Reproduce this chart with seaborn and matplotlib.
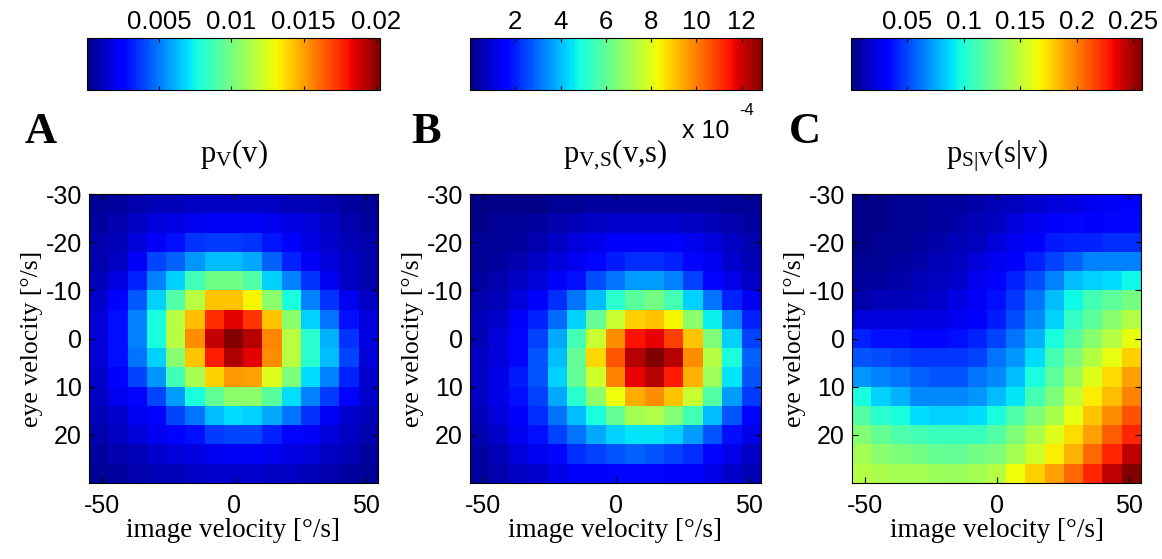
import matplotlib
matplotlib.use("Agg")
import matplotlib.pyplot as plt
import numpy as np
import pandas as pd
import seaborn as sns

# bin centres (deg/s)
image_vel = [-51.3, -44.0, -36.7, -29.3, -22.0, -14.7, -7.3, 0.0,
             7.3, 14.7, 22.0, 29.3, 36.7, 44.0, 51.3]
eye_vel = [-28, -24, -20, -16, -12, -8, -4, 0, 4, 8, 12, 16, 20, 24, 28]

# A: p_V(v), in units of 1e-4
pv_e4 = [
    [4, 6, 8, 10, 10, 12, 12, 12, 12, 12, 10, 10, 8, 6, 4],
    [6, 8, 12, 16, 18, 20, 22, 22, 22, 20, 18, 16, 12, 8, 6],
    [8, 10, 16, 22, 28, 35, 37, 37, 35, 30, 24, 18, 14, 10, 8],
    [8, 12, 22, 39, 45, 55, 63, 63, 59, 45, 32, 22, 16, 12, 8],
    [10, 18, 32, 51, 67, 87, 99, 99, 91, 67, 51, 35, 20, 12, 8],
    [14, 24, 43, 67, 91, 116, 142, 142, 132, 106, 77, 51, 35, 20, 12],
    [16, 28, 51, 77, 116, 144, 175, 185, 173, 142, 106, 67, 49, 28, 16],
    [16, 28, 51, 77, 116, 154, 191, 203, 193, 156, 116, 81, 61, 35, 18],
    [16, 28, 49, 67, 104, 142, 179, 195, 185, 154, 116, 81, 63, 39, 16],
    [14, 24, 39, 55, 87, 112, 140, 152, 150, 126, 102, 69, 51, 32, 14],
    [12, 20, 26, 39, 57, 77, 95, 106, 106, 93, 69, 51, 37, 24, 14],
    [10, 14, 20, 26, 39, 49, 63, 69, 67, 59, 49, 35, 22, 14, 10],
    [8, 12, 16, 20, 24, 28, 37, 39, 39, 32, 26, 22, 16, 12, 8],
    [6, 8, 10, 14, 16, 18, 20, 22, 22, 20, 18, 16, 12, 10, 6],
    [4, 6, 8, 10, 10, 12, 14, 14, 14, 12, 12, 10, 8, 6, 4],
]

# B: p_V,S(v,s), in units of 1e-4
pvs_e4 = [
    [0.13, 0.13, 0.13, 0.13, 0.26, 0.26, 0.39, 0.39, 0.39, 0.39, 0.39, 0.39, 0.39, 0.26, 0.26],
    [0.13, 0.26, 0.26, 0.39, 0.52, 0.65, 0.77, 0.90, 0.90, 0.90, 0.90, 0.77, 0.65, 0.52, 0.39],
    [0.26, 0.26, 0.39, 0.52, 0.77, 1.03, 1.16, 1.42, 1.55, 1.55, 1.55, 1.29, 1.03, 0.77, 0.52],
    [0.26, 0.39, 0.52, 0.77, 1.03, 1.29, 1.68, 1.94, 2.19, 2.19, 2.06, 1.68, 1.29, 0.90, 0.65],
    [0.39, 0.52, 0.77, 1.03, 1.42, 1.81, 2.58, 3.10, 3.61, 3.61, 3.23, 2.45, 1.68, 1.16, 0.77],
    [0.52, 0.65, 1.03, 1.55, 2.19, 3.10, 4.00, 5.16, 5.93, 6.32, 5.55, 4.26, 3.10, 2.06, 1.29],
    [0.65, 0.90, 1.42, 2.06, 2.97, 4.26, 6.06, 7.61, 8.90, 9.03, 8.39, 6.71, 4.64, 3.23, 2.06],
    [0.65, 1.03, 1.68, 2.45, 3.74, 5.55, 7.61, 9.80, 11.48, 11.74, 10.84, 9.03, 6.45, 4.26, 2.45],
    [0.77, 1.03, 1.68, 2.71, 4.00, 6.06, 8.77, 10.58, 12.26, 12.90, 12.26, 9.80, 7.35, 4.90, 2.84],
    [0.77, 1.16, 1.94, 2.71, 4.26, 6.06, 7.74, 9.93, 11.74, 12.26, 11.35, 9.29, 6.97, 4.52, 2.71],
    [0.77, 1.16, 1.81, 2.45, 3.74, 5.16, 6.71, 8.26, 9.42, 9.80, 9.03, 7.61, 5.81, 3.61, 2.32],
    [0.65, 1.03, 1.55, 2.19, 3.10, 4.00, 4.90, 6.06, 7.10, 7.22, 6.58, 5.55, 4.00, 2.71, 1.68],
    [0.52, 0.90, 1.29, 1.81, 2.45, 3.10, 3.74, 4.26, 4.52, 4.52, 4.26, 3.61, 2.71, 1.81, 1.16],
    [0.39, 0.65, 1.03, 1.29, 1.68, 2.19, 2.45, 2.71, 2.84, 2.71, 2.45, 2.19, 1.68, 1.16, 0.77],
    [0.39, 0.52, 0.77, 0.90, 1.16, 1.42, 1.55, 1.68, 1.68, 1.68, 1.55, 1.42, 1.16, 0.90, 0.65],
]

# C: p_S|V(s|v)
psv = [
    [0.003, 0.003, 0.005, 0.005, 0.008, 0.008, 0.010, 0.013, 0.015, 0.018, 0.021, 0.023, 0.026, 0.028, 0.031],
    [0.003, 0.003, 0.005, 0.005, 0.008, 0.010, 0.013, 0.015, 0.021, 0.026, 0.031, 0.034, 0.031, 0.034, 0.034],
    [0.003, 0.005, 0.005, 0.008, 0.010, 0.013, 0.015, 0.021, 0.026, 0.031, 0.039, 0.041, 0.041, 0.044, 0.044],
    [0.005, 0.005, 0.008, 0.010, 0.013, 0.015, 0.021, 0.026, 0.031, 0.041, 0.049, 0.057, 0.065, 0.065, 0.065],
    [0.008, 0.008, 0.010, 0.013, 0.015, 0.018, 0.026, 0.031, 0.041, 0.052, 0.065, 0.080, 0.085, 0.088, 0.095],
    [0.010, 0.013, 0.013, 0.015, 0.018, 0.023, 0.028, 0.036, 0.046, 0.062, 0.080, 0.095, 0.111, 0.119, 0.126],
    [0.021, 0.021, 0.021, 0.023, 0.023, 0.026, 0.031, 0.039, 0.052, 0.067, 0.085, 0.106, 0.119, 0.134, 0.147],
    [0.041, 0.036, 0.036, 0.034, 0.034, 0.036, 0.041, 0.049, 0.062, 0.077, 0.098, 0.116, 0.134, 0.147, 0.163],
    [0.054, 0.052, 0.049, 0.046, 0.046, 0.046, 0.049, 0.062, 0.070, 0.088, 0.111, 0.129, 0.147, 0.163, 0.178],
    [0.070, 0.065, 0.062, 0.057, 0.054, 0.054, 0.062, 0.067, 0.080, 0.098, 0.119, 0.139, 0.160, 0.175, 0.191],
    [0.098, 0.085, 0.077, 0.067, 0.067, 0.067, 0.070, 0.080, 0.090, 0.111, 0.129, 0.152, 0.170, 0.183, 0.199],
    [0.116, 0.103, 0.098, 0.088, 0.085, 0.085, 0.088, 0.098, 0.114, 0.129, 0.144, 0.163, 0.181, 0.196, 0.212],
    [0.132, 0.121, 0.114, 0.111, 0.108, 0.108, 0.108, 0.116, 0.129, 0.144, 0.160, 0.175, 0.191, 0.209, 0.224],
    [0.142, 0.134, 0.129, 0.126, 0.121, 0.121, 0.126, 0.129, 0.142, 0.155, 0.170, 0.186, 0.206, 0.224, 0.243],
    [0.147, 0.144, 0.142, 0.142, 0.139, 0.139, 0.142, 0.147, 0.165, 0.178, 0.191, 0.206, 0.224, 0.243, 0.258],
]

cbar_ticks_a = [0.005, 0.01, 0.015, 0.02]
cbar_labels_a = ["0.005", "0.01", "0.015", "0.02"]
cbar_ticks_b = [2, 4, 6, 8, 10, 12]
cbar_labels_b = ["2", "4", "6", "8", "10", "12"]
cbar_ticks_c = [0.05, 0.1, 0.15, 0.2, 0.25]
cbar_labels_c = ["0.05", "0.1", "0.15", "0.2", "0.25"]
x_ticks = [-50, 0, 50]
y_ticks = [-30, -20, -10, 0, 10, 20]

plt.rcParams["font.family"] = ["Liberation Sans", "DejaVu Sans"]
plt.rcParams["mathtext.fontset"] = "custom"
plt.rcParams["mathtext.rm"] = "Liberation Serif"
plt.rcParams["mathtext.it"] = "Liberation Serif:italic"

W, H = 1162, 559
fig = plt.figure(figsize=(W / 100, H / 100), dpi=100)


def frac(x0, y0, x1, y1):
    return [x0 / W, 1 - y1 / H, (x1 - x0) / W, (y1 - y0) / H]


panels = [
    dict(data=np.array(pv_e4) / 1e4, vmax=0.0203, ax=(89, 194, 378, 483), cax=(87, 38, 380, 90),
         ticks=cbar_ticks_a, labels=cbar_labels_a, title=r"$\mathrm{p_{V}(v)}$", letter="A", lx=25),
    dict(data=np.array(pvs_e4), vmax=12.9, ax=(470, 194, 761, 483), cax=(470, 38, 762, 90),
         ticks=cbar_ticks_b, labels=cbar_labels_b, title=r"$\mathrm{p_{V{,}S}(v{,}s)}$", letter="B", lx=411),
    dict(data=np.array(psv), vmax=0.258, ax=(852, 194, 1141, 483), cax=(851, 38, 1142, 90),
         ticks=cbar_ticks_c, labels=cbar_labels_c, title=r"$\mathrm{p_{S|V}(s|v)}$", letter="C", lx=789),
]

xx = np.arange(len(image_vel)) + 0.5
yy = np.arange(len(eye_vel)) + 0.5
dx = (image_vel[1] - image_vel[0])
dy = (eye_vel[1] - eye_vel[0])

for p in panels:
    ax = fig.add_axes(frac(*p["ax"]))
    cax = fig.add_axes(frac(*p["cax"]))
    df = pd.DataFrame(p["data"], index=eye_vel, columns=image_vel)
    sns.heatmap(df, ax=ax, cbar_ax=cax, cmap="jet", vmin=0, vmax=p["vmax"],
                cbar_kws={"orientation": "horizontal"},
                xticklabels=False, yticklabels=False)
    # ticks in data units
    ax.set_xticks(xx[0] + (np.array(x_ticks) - image_vel[0]) / dx)
    ax.set_xticklabels([str(t) for t in x_ticks])
    ax.set_yticks(yy[0] + (np.array(y_ticks) - eye_vel[0]) / dy)
    ax.set_yticklabels([str(t) for t in y_ticks], rotation=0)
    ax.tick_params(direction="in", length=4, width=0.8, labelsize=18,
                   top=True, right=True, bottom=True, left=True, colors="black")
    ax.tick_params(axis="x", pad=8)
    ax.tick_params(axis="y", pad=5)
    for s in ax.spines.values():
        s.set_visible(True)
        s.set_linewidth(0.8)
    ax.set_xlabel("image velocity [°/s]", family="Liberation Serif", fontsize=19.5, labelpad=0)
    ax.set_ylabel("eye velocity [°/s]", family="Liberation Serif", fontsize=18.5, labelpad=2)

    cx = (p["ax"][0] + p["ax"][2]) / 2
    fig.text(cx / W, 1 - 162 / H, p["title"], fontsize=22, ha="center", va="baseline")

    cbar = ax.collections[0].colorbar
    cbar.outline.set_linewidth(0.8)
    cbar.outline.set_edgecolor("black")
    cbar.set_ticks(p["ticks"])
    cbar.set_ticklabels(p["labels"])
    cax.tick_params(direction="in", length=3, width=0.8, labelsize=18.5,
                    top=True, bottom=True, labeltop=True, labelbottom=False, pad=3)

    fig.text(p["lx"] / W, 1 - 143 / H, p["letter"], family="Liberation Serif",
             fontweight="bold", fontsize=32, va="baseline")

# colour-bar exponent of panel B
fig.text(682 / W, 1 - 138 / H, "x 10", fontsize=18, va="baseline")
fig.text(739 / W, 1 - 115 / H, "-4", fontsize=12, va="baseline")

fig.savefig("out.png", dpi=100)
